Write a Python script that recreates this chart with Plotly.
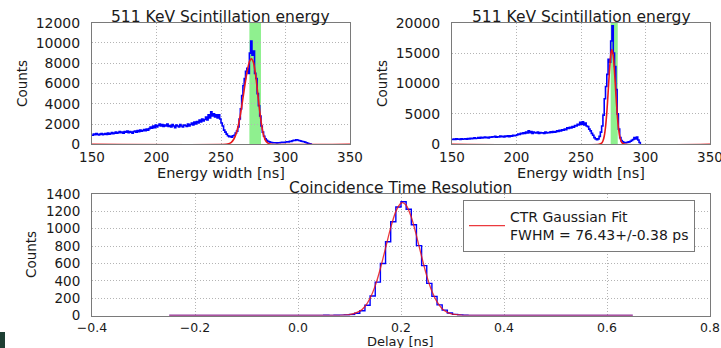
import plotly.graph_objects as go

W, H = 721, 348

# ---------------- data ----------------
# Top-left: 511 KeV scintillation energy histogram (1 ns bins starting at 150 ns)
e1_start = 150
e1_counts = [
    900, 1000, 950, 1050, 980, 920, 1000, 1050, 950, 1000,
    1050, 980, 1100, 1000, 1050, 1150, 1050, 1100, 1200, 1100,
    1150, 1250, 1150, 1200, 1100, 1250, 1200, 1300, 1150, 1250,
    1200, 1100, 1250, 1300, 1200, 1350, 1250, 1400, 1300, 1350,
    1450, 1350, 1500, 1400, 1550, 1700, 1600, 1800, 1650, 1900,
    1700, 1850, 2000, 1800, 1950, 1750, 1900, 1800, 2000, 1750,
    1850, 1700, 1950, 1800, 1650, 1900, 1800, 1700, 1950, 1800,
    1700, 1900, 1850, 1750, 2000, 1800, 1950, 2100, 1900, 2200,
    2000, 2250, 2100, 2400, 2200, 2500, 2300, 2450, 2700, 2400,
    2900, 2600, 3200, 2800, 3000, 2700, 2900, 2600, 2900, 2500,
    2100, 1800, 1400, 1200, 1000, 850, 750, 800, 700, 850,
    900, 1100, 1300, 1700, 2500, 3500, 4800, 5800, 6500, 7200,
    7500, 7000, 9000, 10200, 8800, 9200, 7000, 6500, 5000, 3800,
    2800, 1800, 1200, 800, 550, 400, 300, 250, 200, 180,
    160, 150, 150, 140, 150, 160, 180, 200, 180, 200,
    220, 250, 230, 300, 280, 350, 400, 380, 450, 420,
    380, 350, 300, 280, 250, 200, 150, 100, 60, 20,
]
fit1_x = [150, 254, 256, 258, 260, 262, 264, 266, 268, 270, 272, 273.5, 275, 277, 279, 281, 283, 285, 287, 289, 350]
fit1_y = [0, 0, 60, 200, 520, 1150, 2200, 3700, 5400, 7000, 8150, 8450, 8150, 6700, 4400, 2300, 900, 280, 70, 0, 0]
band1 = [272, 281]

# Top-right: second channel (1 ns bins starting at 150 ns)
e2_start = 150
e2_counts = [
    800, 850, 780, 900, 820, 870, 800, 900, 850, 880,
    900, 850, 950, 900, 1000, 920, 980, 1050, 950, 1000,
    1100, 1000, 1150, 1050, 1100, 1200, 1100, 1150, 1050, 1200,
    1150, 1250, 1200, 1300, 1150, 1250, 1200, 1350, 1250, 1300,
    1200, 1350, 1300, 1400, 1250, 1400, 1350, 1500, 1400, 1450,
    1550, 1700, 1600, 1800, 1750, 1900, 1800, 2000, 1850, 2200,
    1900, 2100, 1800, 2000, 1900, 1850, 2000, 1800, 1950, 1850,
    1900, 1800, 2000, 1850, 1950, 1900, 2050, 1950, 2100, 2000,
    2050, 2200, 2100, 2300, 2200, 2400, 2300, 2500, 2400, 2700,
    2600, 2800, 2700, 2900, 2800, 3100, 3000, 3300, 3200, 3600,
    3300, 3700, 3200, 3500, 3000, 2900, 2500, 2200, 1800, 1500,
    1100, 900, 750, 900, 1300, 2000, 3000, 4800, 7500, 9500,
    11500, 14000, 13500, 17000, 19500, 15000, 12800, 9000, 5000, 2500,
    1100, 600, 400, 300, 250, 300, 350, 400, 500, 650,
    800, 1100, 900, 1200, 700, 300,
]
fit2_x = [150, 264, 266, 267, 268, 269, 270, 271, 272, 273, 273.8, 275, 276, 277, 278, 279, 280, 281, 282, 284, 350]
fit2_y = [0, 0, 190, 540, 1320, 2810, 5200, 8410, 11860, 14570, 15600, 14570, 11860, 8410, 5200, 2810, 1320, 540, 190, 0, 0]
band2 = [273, 278.5]

# Bottom: coincidence time resolution (0.01 ns bins, left edge -0.25 ns)
ctr_start = -0.25
ctr_counts = (
    [0, 1, 0, 0, 1, 0, 0, 1, 0, 0, 1, 0, 0, 0, 1, 0, 0, 1, 0, 0,
     1, 0, 0, 1, 2, 1, 2, 1, 2, 2, 3, 2, 3]
    + [4, 6, 11, 26, 55, 118, 225, 385, 600, 850, 1080, 1250, 1310, 1225, 1045,
       805, 575, 370, 220, 122, 62, 29, 13, 6, 3]
    + [2, 1, 2, 1, 1, 0, 1, 0, 1, 0, 0, 1, 0, 0, 1, 0, 0, 1, 0, 0,
       1, 0, 0, 1, 0, 0, 0, 1, 0, 0, 1, 0]
)
fit3_x = [-0.25, 0.06, 0.08, 0.10, 0.12, 0.13, 0.14, 0.15, 0.16, 0.17, 0.18, 0.19, 0.20, 0.203,
          0.21, 0.22, 0.23, 0.24, 0.25, 0.26, 0.27, 0.28, 0.29, 0.30, 0.32, 0.34, 0.65]
fit3_y = [0, 0, 2, 9, 50, 104, 199, 344, 542, 777, 1012, 1200, 1295, 1300,
          1270, 1134, 921, 680, 457, 279, 156, 78, 36, 15, 2, 0, 0]
legend_label = "CTR Gaussian Fit<br>FWHM = 76.43+/-0.38 ps"

title_top = "511 KeV Scintillation energy"
title_bottom = "Coincidence Time Resolution"
xlabel_top = "Energy width [ns]"
xlabel_bottom = "Delay [ns]"
ylabel = "Counts"

# ---------------- helpers ----------------
def step_xy(start, width, counts):
    xs, ys = [], []
    for i, c in enumerate(counts):
        xs.append(start + i * width)
        ys.append(c)
    xs.append(start + len(counts) * width)
    ys.append(0)
    return xs, ys

FONT = "DejaVu Sans, Verdana, sans-serif"
TXT = "#1a1a1a"
BLUE = "#0000ff"
RED = "#e8181c"

fig = go.Figure()

x1, y1 = step_xy(e1_start, 1, e1_counts)
fig.add_trace(go.Scatter(x=x1, y=y1, mode="lines", line=dict(color=BLUE, width=1.6, shape="hv"),
                         xaxis="x", yaxis="y", showlegend=False))
fig.add_trace(go.Scatter(x=fit1_x, y=fit1_y, mode="lines", line=dict(color=RED, width=1.6, shape="spline", smoothing=0.6),
                         xaxis="x", yaxis="y", showlegend=False))

x2, y2 = step_xy(e2_start, 1, e2_counts)
fig.add_trace(go.Scatter(x=x2, y=y2, mode="lines", line=dict(color=BLUE, width=1.6, shape="hv"),
                         xaxis="x2", yaxis="y2", showlegend=False))
fig.add_trace(go.Scatter(x=fit2_x, y=fit2_y, mode="lines", line=dict(color=RED, width=1.6, shape="spline", smoothing=0.6),
                         xaxis="x2", yaxis="y2", showlegend=False))

x3, y3 = step_xy(ctr_start, 0.01, ctr_counts)
fig.add_trace(go.Scatter(x=x3, y=y3, mode="lines", line=dict(color=BLUE, width=1.4, shape="hv"),
                         xaxis="x3", yaxis="y3", showlegend=False))
fig.add_trace(go.Scatter(x=fit3_x, y=fit3_y, mode="lines", line=dict(color=RED, width=1.3, shape="spline", smoothing=0.6),
                         xaxis="x3", yaxis="y3", name=legend_label, showlegend=True, opacity=0.85))

def px(x):
    return x / W

def py(y):
    return 1 - y / H

axis_common = dict(showline=True, mirror=True, linecolor="#7a7a7a", linewidth=1,
                   showgrid=True, gridcolor="#b4b4b4", griddash="1px,2px", gridwidth=1,
                   zeroline=False, ticks="outside", tickcolor="rgba(0,0,0,0)",
                   automargin=False, tickformat="d", layer="above traces",
                   ticklabeloverflow="allow",
                   tickfont=dict(family=FONT, size=14, color=TXT))

fig.update_layout(
    width=W, height=H,
    margin=dict(l=0, r=0, t=0, b=0, autoexpand=False),
    paper_bgcolor="white", plot_bgcolor="white",
    font=dict(family=FONT, color=TXT),
    xaxis=dict(axis_common, domain=[px(92), px(350)], range=[150, 350], tickvals=[150, 200, 250, 300, 350],
               anchor="y", ticklen=0, tickfont=dict(family=FONT, size=13.5, color=TXT)),
    yaxis=dict(axis_common, domain=[py(144.3), py(22.7)], range=[0, 12000],
               tickvals=[0, 2000, 4000, 6000, 8000, 10000, 12000], anchor="x", ticklen=8),
    xaxis2=dict(axis_common, domain=[px(452), px(710)], range=[150, 350], tickvals=[150, 200, 250, 300, 350],
                anchor="y2", ticklen=0, tickfont=dict(family=FONT, size=13.5, color=TXT)),
    yaxis2=dict(axis_common, domain=[py(144.3), py(22.7)], range=[0, 20000],
                tickvals=[0, 5000, 10000, 15000, 20000], anchor="x2", ticklen=8),
    xaxis3=dict(axis_common, domain=[px(92), px(710)], range=[-0.4, 0.8],
                tickvals=[-0.4, -0.2, 0.0, 0.2, 0.4, 0.6, 0.8],
                ticktext=["\u22120.4", "\u22120.2", "0.0", "0.2", "0.4", "0.6", "0.8"],
                anchor="y3", ticklen=0, tickfont=dict(family=FONT, size=12.5, color=TXT)),
    yaxis3=dict(axis_common, domain=[py(315.5), py(194)], range=[0, 1400],
                tickvals=[0, 200, 400, 600, 800, 1000, 1200, 1400], anchor="x3", ticklen=8,
                tickfont=dict(family=FONT, size=13.5, color=TXT)),
    legend=dict(x=px(463), y=py(200), xanchor="left", yanchor="top",
                bgcolor="white", bordercolor="#7a7a7a", borderwidth=1,
                font=dict(family=FONT, size=14, color=TXT), itemwidth=36,
                tracegroupgap=0),
    shapes=[
        dict(type="rect", xref="x", yref="y domain", x0=band1[0], x1=band1[1], y0=0, y1=1,
             fillcolor="#8ff08f", line=dict(width=0), layer="below"),
        dict(type="rect", xref="x2", yref="y2 domain", x0=band2[0], x1=band2[1], y0=0, y1=1,
             fillcolor="#8ff08f", line=dict(width=0), layer="below"),
        dict(type="rect", xref="paper", yref="paper", x0=0, x1=px(5), y0=0, y1=py(332),
             fillcolor="#1d3f33", line=dict(width=0)),
    ],
    annotations=[
        dict(text=title_top, x=px(221), y=py(16.5), xref="paper", yref="paper", showarrow=False,
             xanchor="center", yanchor="middle", font=dict(family=FONT, size=15.5, color=TXT)),
        dict(text=title_top, x=px(581), y=py(16.5), xref="paper", yref="paper", showarrow=False,
             xanchor="center", yanchor="middle", font=dict(family=FONT, size=15.5, color=TXT)),
        dict(text=title_bottom, x=px(400), y=py(188), xref="paper", yref="paper", showarrow=False,
             xanchor="center", yanchor="middle", font=dict(family=FONT, size=15.5, color=TXT)),
        dict(text=xlabel_top, x=px(221), y=py(172.5), xref="paper", yref="paper", showarrow=False,
             xanchor="center", yanchor="middle", font=dict(family=FONT, size=14.5, color=TXT)),
        dict(text=xlabel_top, x=px(581), y=py(172.5), xref="paper", yref="paper", showarrow=False,
             xanchor="center", yanchor="middle", font=dict(family=FONT, size=14.5, color=TXT)),
        dict(text=xlabel_bottom, x=px(400), y=py(341.5), xref="paper", yref="paper", showarrow=False,
             xanchor="center", yanchor="middle", font=dict(family=FONT, size=13, color=TXT)),
        dict(text=ylabel, x=px(22), y=py(84), xref="paper", yref="paper", showarrow=False, textangle=-90,
             xanchor="center", yanchor="middle", font=dict(family=FONT, size=13.5, color=TXT)),
        dict(text=ylabel, x=px(382), y=py(84), xref="paper", yref="paper", showarrow=False, textangle=-90,
             xanchor="center", yanchor="middle", font=dict(family=FONT, size=13.5, color=TXT)),
        dict(text=ylabel, x=px(31), y=py(255), xref="paper", yref="paper", showarrow=False, textangle=-90,
             xanchor="center", yanchor="middle", font=dict(family=FONT, size=13.5, color=TXT)),
    ],
)

fig.write_html(
    "out.html",
    config={"displayModeBar": False},
    post_script="document.body.style.margin='0';document.body.style.overflow='hidden';"
                "document.documentElement.style.overflow='hidden';",
)
